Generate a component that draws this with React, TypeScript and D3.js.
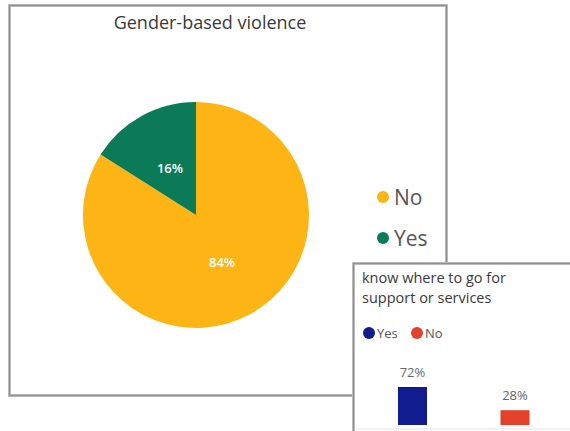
import React from "react";
import * as d3 from "d3";

const pieCategories = ["No", "Yes"];
const pieValues = [84, 16];
const pieColors = ["#FDB515", "#0B7B57"];

const barCategories = ["Yes", "No"];
const barValues = [72, 28];
const barColors = ["#111D8E", "#E3412B"];

const FONT = "'Open Sans', 'Noto Sans', sans-serif";

export default function App() {
  const W = 570, H = 431;
  const cx = 196, cy = 215, R = 113;
  const pie = d3.pie<number>().sort(null).startAngle(0).endAngle(2 * Math.PI)(pieValues);
  const arc = d3.arc<d3.PieArcDatum<number>>().innerRadius(0).outerRadius(R);
  const labelPos = (d: d3.PieArcDatum<number>) => {
    const a = (d.startAngle + d.endAngle) / 2;
    const r = 54;
    return [Math.sin(a) * r, -Math.cos(a) * r];
  };

  // bar chart
  const x = d3.scaleBand<string>().domain(barCategories).range([377.5, 550]).paddingInner(0.717).paddingOuter(0.2);
  const y = d3.scaleLinear().domain([0, 72]).range([425, 387]);

  return (
    <svg width={W} height={H} style={{ position: "absolute", left: 0, top: 0 }}>
      <rect x={0} y={0} width={W} height={H} fill="#fff" />
      {/* main box */}
      <rect x={9.5} y={5.5} width={437} height={390} fill="#fff" stroke="#c8c8c8" strokeWidth={3} />
      <rect x={9.5} y={5.5} width={437} height={390} fill="none" stroke="#8f8f8f" strokeWidth={1.5} />
      <text x={210} y={29} textAnchor="middle" fontFamily={FONT} fontSize={18} fill="#3a3a3a">
        Gender-based violence
      </text>
      <g transform={`translate(${cx},${cy})`}>
        {pie.map((d, i) => (
          <path key={i} d={arc(d) || ""} fill={pieColors[i]} />
        ))}
        {pie.map((d, i) => {
          const [lx, ly] = labelPos(d);
          return (
            <text key={"l" + i} x={lx} y={ly} textAnchor="middle" dominantBaseline="central"
              fontFamily={FONT} fontSize={13} fontWeight={600} fill="#fff">
              {d.data}%
            </text>
          );
        })}
      </g>
      {pieCategories.map((c, i) => (
        <g key={c} transform={`translate(383,${197 + i * 41})`}>
          <circle r={6} fill={pieColors[i]} />
          <text x={11} y={0} dominantBaseline="central" fontFamily={FONT} fontSize={21} fill="#555">
            {c}
          </text>
        </g>
      ))}
      {/* second box */}
      <rect x={353.5} y={263.5} width={230} height={180} fill="#fff" stroke="#c8c8c8" strokeWidth={3} />
      <rect x={353.5} y={263.5} width={230} height={180} fill="none" stroke="#8f8f8f" strokeWidth={1.5} />
      <text x={362} y={283} fontFamily={FONT} fontSize={14.5} fill="#3a3a3a">know where to go for</text>
      <text x={362} y={303} fontFamily={FONT} fontSize={14.5} fill="#3a3a3a">support or services</text>
      {barCategories.map((c, i) => (
        <g key={c} transform={`translate(${369 + i * 48},333)`}>
          <circle r={6} fill={barColors[i]} />
          <text x={8} y={0} dominantBaseline="central" fontFamily={FONT} fontSize={13} fill="#555">
            {c}
          </text>
        </g>
      ))}
      {barValues.map((v, i) => (
        <g key={i}>
          <rect x={x(barCategories[i])} y={y(v)} width={x.bandwidth()} height={y(0) - y(v)} fill={barColors[i]} />
          <text x={(x(barCategories[i]) || 0) + x.bandwidth() / 2} y={y(v) - 10} textAnchor="middle"
            fontFamily={FONT} fontSize={13} fill="#666">
            {v}%
          </text>
        </g>
      ))}
      <line x1={356} x2={570} y1={429} y2={429} stroke="#e6e6e6" strokeWidth={1} />
    </svg>
  );
}
